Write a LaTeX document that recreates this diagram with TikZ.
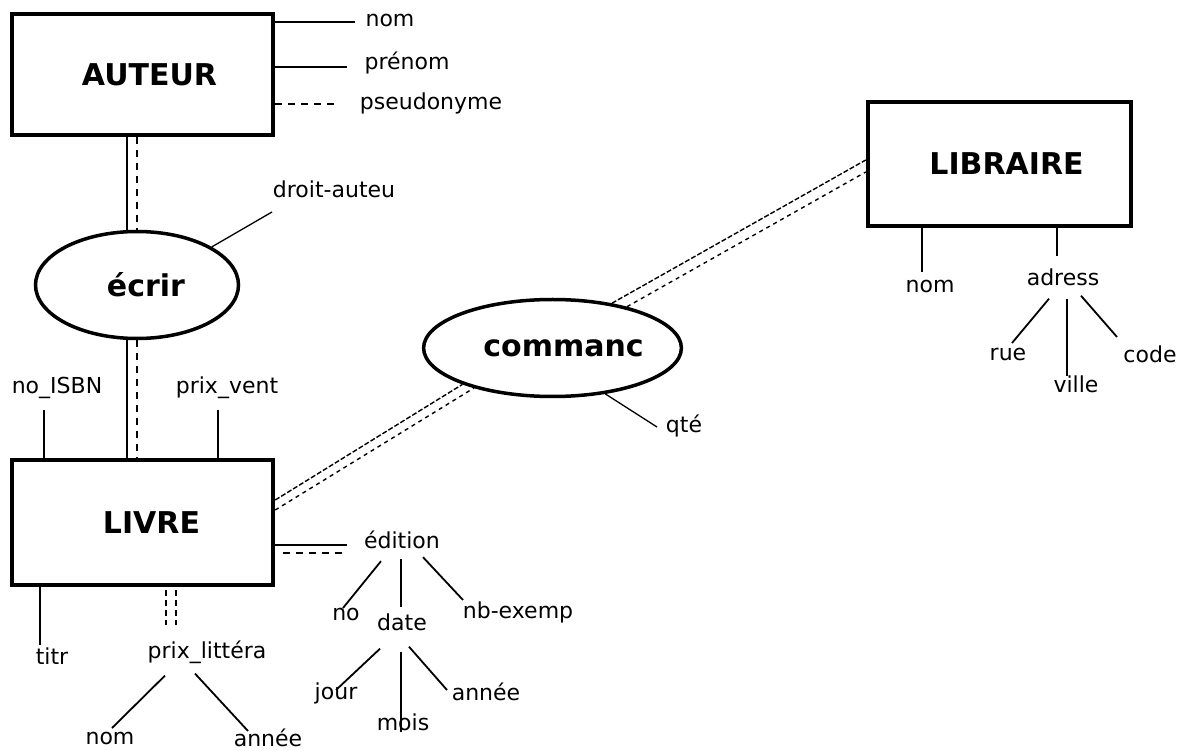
\documentclass[tikz,border=0pt]{standalone}
\usepackage{fontspec}
\setmainfont{DejaVu Sans}
\usetikzlibrary{shapes.geometric}
\begin{document}
\begin{tikzpicture}[x=1pt,y=-1pt,
 entity/.style={draw, line width=4.5pt, inner sep=0, font=\bfseries\fontsize{30}{34}\selectfont},
 rel/.style={draw, ellipse, line width=3.5pt, inner sep=0, font=\bfseries\fontsize{30}{34}\selectfont},
 attr/.style={inner sep=0, font=\fontsize{22}{26}\selectfont},
 link/.style={line width=1.8pt},
 dlink/.style={line width=1.8pt, dash pattern=on 7pt off 6pt},
 rlink/.style={line width=1.4pt, dash pattern=on 5pt off 2pt},
 rdlink/.style={line width=1.4pt, dash pattern=on 4pt off 4pt},
]
\useasboundingbox (0,0) rectangle (1179,751);
% entities
\node[entity, minimum width=261pt, minimum height=121pt] (auteur) at (142.5,74.5) {\hspace*{14pt}AUTEUR};
\node[entity, minimum width=261pt, minimum height=125pt] (livre) at (142.5,522.5) {\hspace*{18pt}LIVRE\vphantom{\rule{0pt}{10pt}}};
\node[entity, minimum width=263pt, minimum height=124pt] (libr) at (999.5,164) {\hspace*{14pt}LIBRAIRE};
% relationships
\node[rel, minimum width=203pt, minimum height=107pt] (ecrir) at (137,285) {\hspace*{18pt}écrir};
\node[rel, minimum width=232pt, minimum height=97pt] (cmd) at (552.5,348) {\hspace*{22pt}commanc};
% attribute labels
\node[attr] (nomA) at (390,20) {nom};
\node[attr] (prenom) at (407,63) {prénom};
\node[attr] (pseudo) at (431,103) {pseudonyme};
\node[attr] (droit) at (334,189) {droit-auteu};
\node[attr] (noisbn) at (57,388) {no\_ISBN};
\node[attr] (prixv) at (227,388) {prix\_vent};
\node[attr] (titre) at (52,656) {titr};
\node[attr] (prixlit) at (207,652) {prix\_littéra};
\node[attr] (plnom) at (110,738) {nom};
\node[attr] (plannee) at (268,738) {année};
\node[attr] (edition) at (402,540) {édition};
\node[attr] (no) at (346,614) {no};
\node[attr] (date) at (402,622) {date};
\node[attr] (nbex) at (518,612) {nb-exemp};
\node[attr] (jour) at (336,693) {jour};
\node[attr] (mois) at (403,722) {mois};
\node[attr] (annee) at (486,692) {année};
\node[attr] (qte) at (684,426) {qté};
\node[attr] (lnom) at (930,286) {nom};
\node[attr] (adress) at (1063,277) {adress};
\node[attr] (rue) at (1008,354) {rue};
\node[attr] (ville) at (1076,384) {ville};
\node[attr] (code) at (1150,354) {code};
% free ends
\coordinate (cdroit) at (272,212);
\coordinate (cqte) at (657,427);
\coordinate (cno) at (343,608);
\coordinate (cnb) at (463,600);
\coordinate (cjour) at (336,690);
\coordinate (cann) at (447,690);
\coordinate (cpln) at (112,728);
\coordinate (cpla) at (248,731);
\coordinate (crue) at (1012,343);
\coordinate (ccode) at (1117,337);
% AUTEUR attributes
\draw[link] ([yshift=52.5pt]auteur.east) -- ++(80,0);
\draw[link] ([yshift=7.5pt]auteur.east) -- ++(72,0);
\draw[dlink] ([yshift=-29.5pt]auteur.east) -- ++(65,0);
% AUTEUR - ecrir - LIVRE
\draw[link] ([xshift=-15.5pt]auteur.south) -- ([xshift=-10pt]ecrir.north);
\draw[dlink] ([xshift=-5.5pt]auteur.south) -- (ecrir.north);
\draw[link] ([xshift=-10pt]ecrir.south) -- ([xshift=-15.5pt]livre.north);
\draw[dlink] (ecrir.south) -- ([xshift=-5.5pt]livre.north);
\draw[link, line width=1.3pt] (ecrir.27) -- (cdroit);
% LIVRE attributes
\draw[link] ([xshift=-98.5pt]livre.north) -- ++(0,-48);
\draw[link] ([xshift=75.5pt]livre.north) -- ++(0,-48);
\draw[link] ([xshift=-102.5pt]livre.south) -- ++(0,58);
\draw[link, dash pattern=on 6pt off 4pt] ([xshift=23.5pt,yshift=-3pt]livre.south) -- ++(0,35);
\draw[link, dash pattern=on 6pt off 4pt] ([xshift=33.5pt,yshift=-3pt]livre.south) -- ++(0,35);
\draw[link] (prixlit.south) ++(-42,12) -- (cpln);
\draw[link] (prixlit.south) ++(-12,10) -- (cpla);
\draw[link] ([yshift=-22.5pt]livre.east) -- ++(72,0);
\draw[dlink] ([xshift=8pt,yshift=-30.5pt]livre.east) -- ++(60,0);
\draw[link] (edition.south) ++(-21,12) -- (cno);
\draw[link] (edition.south) ++(-1,10) -- ++(0,48);
\draw[link] (edition.south) ++(21,8) -- (cnb);
\draw[link] (date.south) ++(-22,18) -- (cjour);
\draw[link] (date.south) ++(-1,21) -- ++(0,80);
\draw[link] (date.south) ++(7,16) -- (cann);
% commande
\draw[rlink] ([yshift=22.5pt]livre.east) -- (cmd.202);
\draw[rdlink] ([yshift=12.5pt]livre.east) -- (cmd.207);
\draw[rlink] (cmd.37) -- ([yshift=4pt]libr.west);
\draw[rdlink] (cmd.29) -- ([yshift=-8pt]libr.west);
\draw[link, line width=1.3pt] (cmd.-41) -- (cqte);
% LIBRAIRE attributes
\draw[link] ([xshift=-77.5pt]libr.south) -- ++(0,44);
\draw[link] ([xshift=57.5pt]libr.south) -- ++(0,28);
\draw[link] (adress.south) ++(-14,13) -- (crue);
\draw[link] (adress.south) ++(4,13) -- ++(0,77);
\draw[link] (adress.south) ++(18,10) -- (ccode);
\end{tikzpicture}
\end{document}
